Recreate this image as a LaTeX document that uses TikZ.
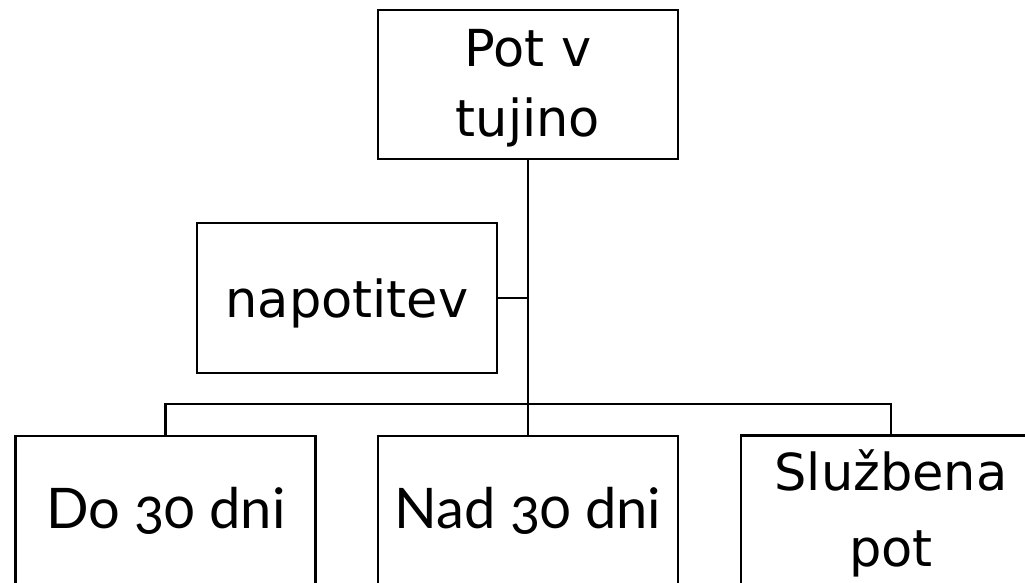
\documentclass[tikz,border=0pt]{standalone}
\usepackage{fontspec}
\newfontfamily\dvfont{DejaVu Sans}
\newfontfamily\candfont[Numbers=OldStyle]{Lato}
\begin{document}
\begin{tikzpicture}[x=1pt,y=-1pt,
  orgbox/.style={draw=black, line width=2.6pt, rectangle, minimum width=300pt, minimum height=150pt, inner sep=0pt},
  conn/.style={draw=black, line width=2.6pt},
  dvtxt/.style={inner sep=0pt, anchor=base, font=\dvfont\fontsize{51}{60}\selectfont},
  cdtxt/.style={inner sep=0pt, anchor=base, font=\candfont\fontsize{56}{66}\selectfont}]
\useasboundingbox (0,0) rectangle (1025,583);
\clip (0,0) rectangle (1025,583);
\fill[white] (0,0) rectangle (1025,583);
% boxes
\node[orgbox, minimum height=149pt] (top) at (528,84.5) {};
\node[orgbox] (napot) at (347,298) {};
\node[orgbox] (do) at (165.5,511) {};
\node[orgbox] (nad) at (528,511) {};
\node[orgbox] (sl) at (891,510.5) {};
% texts
\node[dvtxt] (t1) at (528,67) {Pot v};
\node[dvtxt] (t2) at (528,136) {tujino};
\node[dvtxt] (t3) at (347,317) {napotitev};
\node[cdtxt] (t4) at (166,528) {Do 30 dni};
\node[cdtxt] (t5) at (528,528) {Nad 30 dni};
\node[dvtxt] (t6) at (891,490) {Službena};
\node[dvtxt] (t7) at (891,566) {pot};
% connectors
\coordinate (bar) at (528,404);
\draw[conn] (top.south) -- (nad.north);
\draw[conn] (napot.east) -- (napot.east -| top.south);
\draw[conn] (do.north) -- (do.north |- bar) -- (sl.north |- bar) -- (sl.north);
\end{tikzpicture}
\end{document}
